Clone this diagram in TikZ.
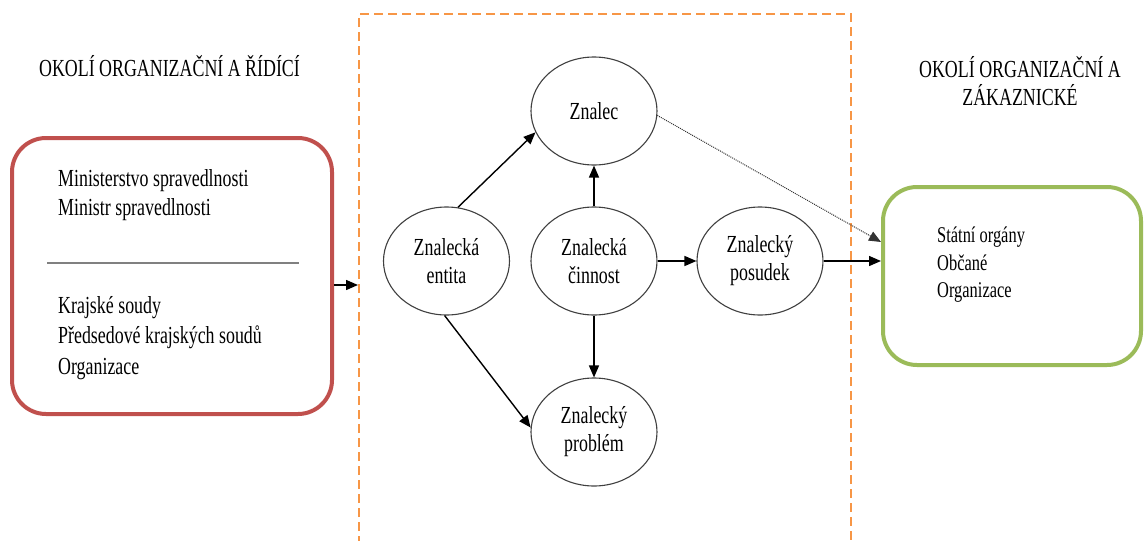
\documentclass[tikz,border=0pt]{standalone}
\usepackage{fontspec}
\setmainfont[FakeStretch=0.73]{Liberation Serif}
\usetikzlibrary{shapes.geometric,arrows.meta}
\definecolor{boxred}{HTML}{C0504D}
\definecolor{boxgreen}{HTML}{9BBB59}
\definecolor{frameorange}{HTML}{F79646}
\begin{document}
\begin{tikzpicture}[x=1pt,y=-1pt,
  ent/.style={ellipse,draw=black!75,line width=1.1pt,minimum width=126pt,
    minimum height=108pt,inner sep=0pt,align=center,
    font=\fontsize{24.5}{28}\selectfont},
  conn/.style={line width=1.4pt,-{Triangle[length=12pt,width=10pt]}},
  envbox/.style={draw,line width=4pt,rounded corners=34pt,inner sep=0pt},
  title/.style={align=center,inner sep=0pt,font=\fontsize{24.5}{28}\selectfont},
  listtext/.style={align=left,anchor=west,inner sep=0pt}
]
\useasboundingbox (0,0) rectangle (1144,541);

% dashed frame around the expert system
\draw[frameorange,line width=1.8pt,dash pattern=on 9pt off 5pt]
  (359,545) -- (359,14) -- (851,14) -- (851,545);

% titles of the surroundings
\node[title] (ltitle) at (169.5,66) {OKOLÍ ORGANIZAČNÍ A ŘÍDÍCÍ};
\node[title] (rtitle) at (1020,81) {OKOLÍ ORGANIZAČNÍ A\\ZÁKAZNICKÉ};

% left surroundings box
\node[envbox,draw=boxred,minimum width=320pt,minimum height=276pt] (red) at (172,276) {};
\draw[black!50,line width=1.6pt] (47,263) -- (299,263);
\node[listtext,font=\fontsize{24.5}{29}\selectfont] (min) at (58,195)
  {Ministerstvo spravedlnosti\\Ministr spravedlnosti};
\node[listtext,font=\fontsize{24.5}{30.5}\selectfont] (kraj) at (58,338)
  {Krajské soudy\\Předsedové krajských soudů\\Organizace};

% right surroundings box
\node[envbox,draw=boxgreen,minimum width=258pt,minimum height=178pt] (green) at (1012,276) {};
\node[listtext,font=\fontsize{22.5}{27.5}\selectfont] (cust) at (937,265)
  {Státní orgány\\Občané\\Organizace};

% entities
\node[ent] (znalec) at (594,111) {Znalec};
\node[ent] (entita) at (446.5,261) {Znalecká\\entita};
\node[ent] (cinnost) at (594,261) {Znalecká\\činnost};
\node[ent] (posudek) at (760,261) {Znalecký\\posudek};
\node[ent] (problem) at (594,432) {Znalecký\\problém};

% connectors
\coordinate (inlet) at (358,285);
\draw[conn] ([yshift=-9pt]red.east) -- (inlet);
\draw[conn] (entita.78) -- (znalec.200);
\draw[conn] (entita.268) -- (problem.176);
\draw[conn] (cinnost) -- (znalec);
\draw[conn] (cinnost) -- (problem);
\draw[conn] (cinnost) -- (posudek);
\draw[conn] (posudek.east) -- (posudek.east -| green.west);
\draw[black!80,line width=1pt,densely dotted,-{Triangle[length=12pt,width=10pt]}]
  (znalec.-4) -- ([yshift=34pt]green.west);
\end{tikzpicture}
\end{document}
